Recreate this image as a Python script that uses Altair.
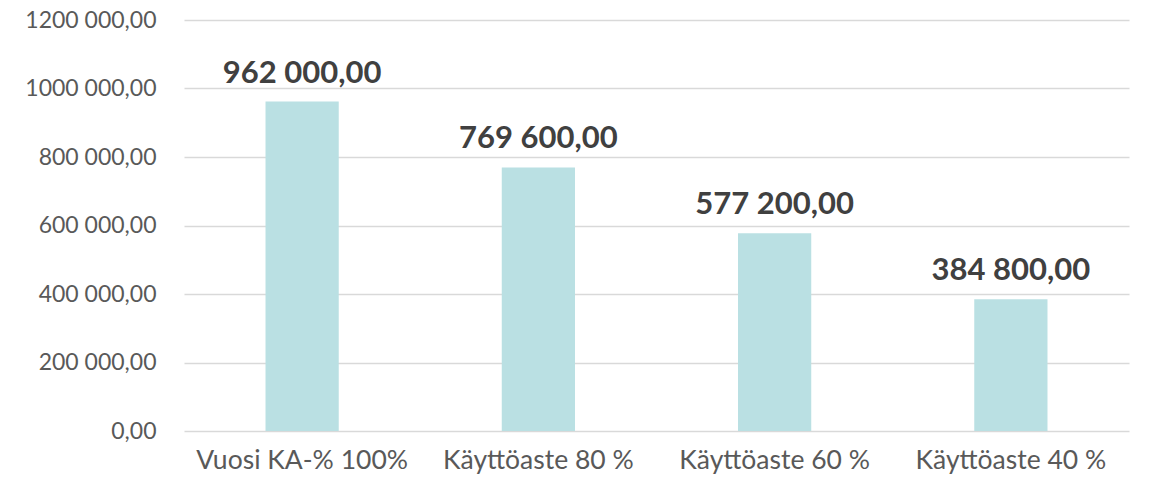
import altair as alt
import pandas as pd

categories = ["Vuosi KA-% 100%", "Käyttöaste 80 %", "Käyttöaste 60 %", "Käyttöaste 40 %"]
values = [962000, 769600, 577200, 384800]
y_ticks = [0, 200000, 400000, 600000, 800000, 1000000, 1200000]
y_tick_labels = ["0,00", "200 000,00", "400 000,00", "600 000,00", "800 000,00", "1000 000,00", "1200 000,00"]


def fi_fmt(v):
    s = f"{v:,.2f}"
    return s.replace(",", " ").replace(".", ",")


df = pd.DataFrame({"cat": categories, "val": values, "lab": [fi_fmt(v) for v in values]})

expr = "''"
for t, l in zip(y_ticks, y_tick_labels):
    expr = f"datum.value == {t} ? '{l}' : ({expr})"

FONT = "Lato"

base = alt.Chart(df).encode(
    x=alt.X("cat:N", sort=categories, title=None,
            scale=alt.Scale(paddingInner=0.69, paddingOuter=0.345),
            axis=alt.Axis(labelAngle=0, labelFont=FONT, labelFontSize=26.5, labelColor="#595959",
                          ticks=False, domain=False, labelPadding=16, labelLimit=400)),
    y=alt.Y("val:Q", title=None, scale=alt.Scale(domain=[0, 1200000]),
            axis=alt.Axis(values=y_ticks, labelExpr=expr, labelFont=FONT, labelFontSize=23,
                          labelColor="#595959", ticks=False, domain=False, labelPadding=28,
                          gridColor="#d9d9d9", gridWidth=1.5)),
)

bars = base.mark_bar(color="#BAE0E3")
text = base.mark_text(baseline="alphabetic", dy=-19, font=FONT, fontSize=31, fontWeight="bold",
                      color="#404040").encode(text="lab:N")

chart = (bars + text).properties(
    width=945, height=411,
    autosize=alt.AutoSizeParams(type="none"),
    padding={"left": 176, "top": 12, "right": 15, "bottom": 60},
).configure_view(stroke=None)

chart.save("out.html", embed_options={"renderer": "svg", "actions": False})
